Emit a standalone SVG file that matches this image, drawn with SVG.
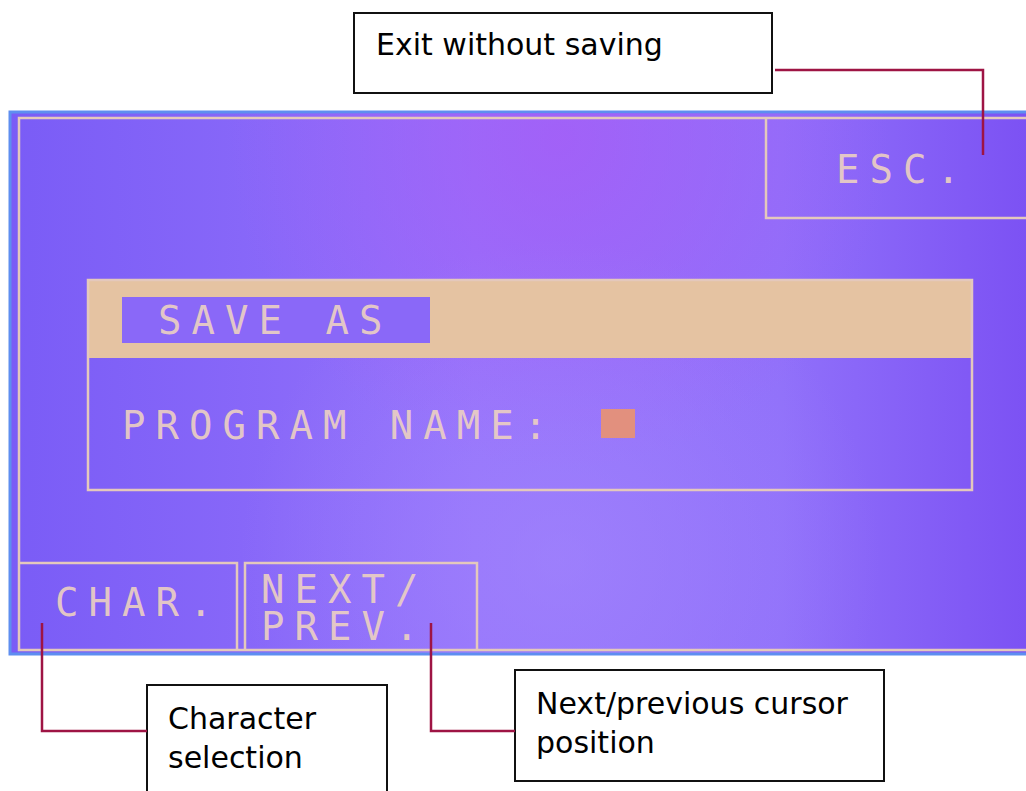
<svg xmlns="http://www.w3.org/2000/svg" width="1026" height="791" viewBox="0 0 1026 791">
<defs>
<linearGradient id="scr" x1="0" y1="0" x2="1" y2="0">
<stop offset="0" stop-color="#7a5cf6"/>
<stop offset="0.45" stop-color="#9472fb"/>
<stop offset="0.75" stop-color="#9070fa"/>
<stop offset="1" stop-color="#7b50f3"/>
</linearGradient>
<radialGradient id="glow" cx="560" cy="140" r="330" gradientUnits="userSpaceOnUse">
<stop offset="0" stop-color="#a85af6" stop-opacity="0.7"/>
<stop offset="1" stop-color="#a85af6" stop-opacity="0"/>
</radialGradient>
<radialGradient id="light" cx="560" cy="560" r="320" gradientUnits="userSpaceOnUse">
<stop offset="0" stop-color="#a488fd" stop-opacity="0.6"/>
<stop offset="1" stop-color="#a488fd" stop-opacity="0"/>
</radialGradient>
<style>
.ln{stroke:#e4c8bc;stroke-width:2.5;fill:none}
.lcd{font-family:"DejaVu Sans Mono",monospace;font-size:39px;fill:#ecd0c2;fill-opacity:0.92;letter-spacing:10px}
.lbl{fill:#fff;stroke:#111;stroke-width:2}
.lt{font-family:"DejaVu Sans","Liberation Sans",sans-serif;font-size:30px;fill:#000}
.con{stroke:#9e1444;stroke-width:2.5;fill:none}
</style>
</defs>
<rect width="1026" height="791" fill="#fff"/>
<g id="screen">
<rect x="10" y="112" width="1030" height="542" fill="url(#scr)" stroke="#5e8ef0" stroke-width="3"/>
<rect x="11" y="113" width="1015" height="540" fill="url(#glow)"/>
<rect x="11" y="113" width="1015" height="540" fill="url(#light)"/>
<path class="ln" d="M1026 118 H19 V650 H1026"/>
</g>
<g id="esc">
<path class="ln" d="M1026 218 H766 V118"/>
<text class="lcd" x="836" y="183">ESC.</text>
</g>
<g id="dialog">
<rect x="88" y="280" width="885" height="78" fill="#e5c3a2"/>
<rect x="88" y="280" width="884" height="210" class="ln"/>
<rect x="122" y="297" width="308" height="46" fill="#8a68f8"/>
<text class="lcd" x="158" y="334">SAVE AS</text>
<text class="lcd" x="122" y="439">PROGRAM NAME:</text>
<rect x="601" y="409" width="34" height="29" fill="#e2907e"/>
</g>
<g id="char-btn">
<path class="ln" d="M19 563 H237 V650"/>
<text class="lcd" x="55" y="616">CHAR.</text>
</g>
<g id="next-btn">
<path class="ln" d="M245 650 V563 H477 V650"/>
<text class="lcd" x="261" y="603">NEXT/</text>
<text class="lcd" x="261" y="640">PREV.</text>
</g>
<g id="label-esc">
<rect class="lbl" x="354" y="13" width="418" height="80"/>
<text class="lt" x="376" y="55">Exit without saving</text>
</g>
<g id="label-char">
<rect class="lbl" x="147" y="685" width="240" height="120"/>
<text class="lt" x="168" y="729">Character</text>
<text class="lt" x="168" y="768">selection</text>
</g>
<g id="label-next">
<rect class="lbl" x="515" y="670" width="369" height="111"/>
<text class="lt" x="536" y="714">Next/previous cursor</text>
<text class="lt" x="536" y="753">position</text>
</g>
<g id="connectors">
<path class="con" d="M775 70 H983 V155"/>
<path class="con" d="M42 623 V731 H147"/>
<path class="con" d="M431 623 V731 H515"/>
</g>
</svg>
